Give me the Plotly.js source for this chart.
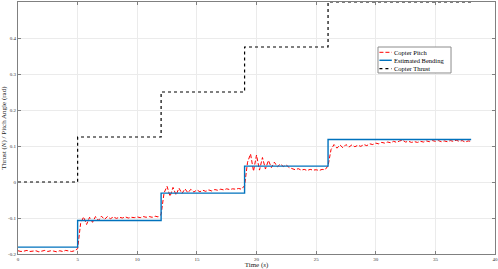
<!DOCTYPE html>
<html>
<head>
<meta charset="utf-8">
<script src="https://cdn.plot.ly/plotly-3.0.1.min.js"></script>
<style>
  html, body { margin: 0; padding: 0; background: #fff; }
  #chart { width: 498px; height: 269px; }
</style>
</head>
<body>
<div id="chart"></div>
<script>
// step series: value holds from each time until the next
var stepT = [0, 5, 12, 19, 26, 38];
var thrustV = [0, 0.125, 0.25, 0.375, 0.5, 0.5];
var bendV = [-0.181, -0.107, -0.031, 0.044, 0.118, 0.118];

// pitch sampled every 0.25 s, 0 .. 38 s
var pitchDt = 0.25;
var pitchV = [
  -0.191,-0.193,-0.192,-0.190,-0.193,-0.192,-0.191,-0.194,-0.192,-0.190,
  -0.193,-0.191,-0.192,-0.194,-0.191,-0.193,-0.190,-0.192,-0.193,-0.191,
  -0.185,-0.115,-0.097,-0.118,-0.098,-0.112,-0.096,-0.107,-0.095,-0.104,
  -0.096,-0.102,-0.097,-0.101,-0.098,-0.100,-0.097,-0.100,-0.098,-0.099,
  -0.097,-0.099,-0.096,-0.098,-0.096,-0.098,-0.095,-0.097,
  -0.090,-0.030,-0.012,-0.040,-0.015,-0.036,-0.017,-0.032,-0.019,-0.030,
  -0.020,-0.028,-0.022,-0.027,-0.023,-0.026,-0.022,-0.025,-0.021,-0.023,
  -0.020,-0.022,-0.019,-0.021,-0.019,-0.020,-0.018,-0.020,
  -0.010,0.055,0.078,0.030,0.075,0.033,0.068,0.036,0.060,0.040,
  0.055,0.042,0.050,0.043,0.047,0.040,0.036,0.034,0.037,0.033,
  0.035,0.032,0.035,0.033,0.034,0.032,0.035,0.034,
  0.045,0.090,0.104,0.094,0.103,0.095,0.104,0.097,0.103,0.098,
  0.102,0.099,0.104,0.101,0.106,0.104,0.108,0.106,0.110,0.108,
  0.111,0.109,0.113,0.110,0.114,0.116,0.111,0.113,0.110,0.112,
  0.110,0.113,0.111,0.114,0.112,0.115,0.113,0.115,0.112,0.114,
  0.112,0.115,0.113,0.116,0.113,0.115,0.111,0.114,0.113
];
var pitchT = pitchV.map(function (v, i) { return i * pitchDt; });

var xTicks = [0, 5, 10, 15, 20, 25, 30, 35, 40];
var yTicks = [-0.2, -0.1, 0, 0.1, 0.2, 0.3, 0.4, 0.5];
var yTickText = ['-0.2', '-0.1', '0', '0.1', '0.2', '0.3', '0.4', '0.5'];

var serif = 'Liberation Serif, Times New Roman, serif';

var traces = [
  { x: pitchT, y: pitchV, name: 'Copter Pitch', line: { color: '#ff0000', width: 1, dash: '4px,2px' } },
  { x: stepT, y: bendV, name: 'Estimated Bending', line: { color: '#0072bd', width: 1.4, shape: 'hv' } },
  { x: stepT, y: thrustV, name: 'Copter Thrust', line: { color: '#000000', width: 1.2, shape: 'hv', dash: '3px,3px' } }
];
var data = traces.map(function (t) {
  return Object.assign({ type: 'scatter', mode: 'lines', showlegend: false }, t);
});

// small MATLAB-style legend box (plotly's own legend rows are too tall here)
var legBox = { x0: 0.7547, x1: 0.9078, y0: 0.7183, y1: 0.8214 };
var legRows = [0.8004, 0.7687, 0.7353];
var shapes = [{
  type: 'rect', xref: 'paper', yref: 'paper',
  x0: legBox.x0, x1: legBox.x1, y0: legBox.y0, y1: legBox.y1,
  fillcolor: '#fff', line: { color: '#8c8c8c', width: 1 }, layer: 'above'
}];
var annotations = [];
traces.forEach(function (t, i) {
  shapes.push({
    type: 'line', xref: 'paper', yref: 'paper',
    x0: legBox.x0 + 0.003, x1: legBox.x0 + 0.029, y0: legRows[i], y1: legRows[i],
    line: { color: t.line.color, width: t.line.width, dash: t.line.dash || 'solid' }, layer: 'above'
  });
  annotations.push({
    xref: 'paper', yref: 'paper', x: legBox.x0 + 0.030, y: legRows[i],
    xanchor: 'left', yanchor: 'middle', showarrow: false,
    text: t.name, font: { family: serif, size: 6.5, color: '#000' }
  });
});

var axisCommon = {
  showline: true, mirror: 'ticks', linecolor: '#808080', linewidth: 1,
  ticks: 'inside', ticklen: 3, tickcolor: '#808080',
  showgrid: true, gridcolor: '#ebebeb', gridwidth: 1,
  zeroline: false, tickfont: { family: serif, size: 5, color: '#333' }
};

var layout = {
  width: 498, height: 269,
  margin: { l: 18, r: 3, t: 2, b: 15 },
  paper_bgcolor: '#fff', plot_bgcolor: '#fff',
  font: { family: serif, color: '#222' },
  showlegend: false,
  shapes: shapes,
  annotations: annotations,
  xaxis: Object.assign({}, axisCommon, {
    range: [0, 40], tickvals: xTicks, ticktext: xTicks.map(String),
    title: { text: 'Time (<i>s</i>)', font: { family: serif, size: 7, color: '#222' }, standoff: 0 }
  }),
  yaxis: Object.assign({}, axisCommon, {
    range: [-0.2, 0.5], tickvals: yTicks, ticktext: yTickText,
    title: { text: 'Thrust (<i>N</i>) / Pitch Angle (rad)', font: { family: serif, size: 7, color: '#222' }, standoff: 1 }
  })
};

Plotly.newPlot('chart', data, layout, { displayModeBar: false, staticPlot: true });
</script>
</body>
</html>
